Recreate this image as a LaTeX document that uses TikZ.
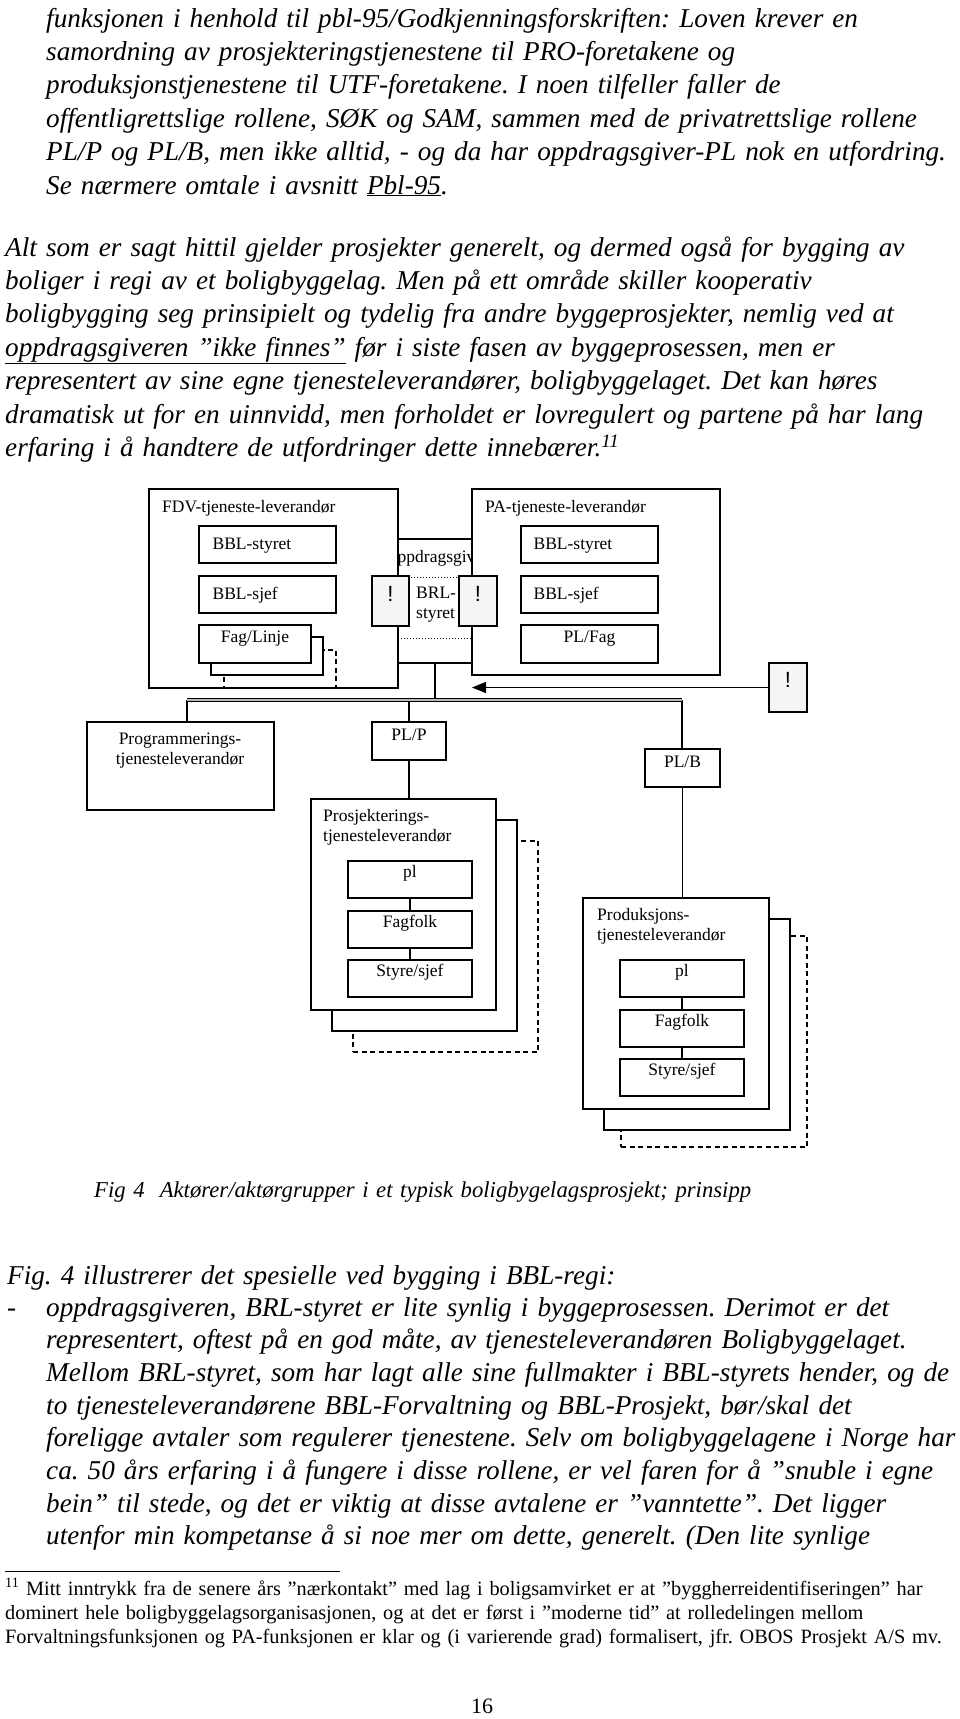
\documentclass[tikz,border=0pt]{standalone}
\usepackage{fontspec}
\setmainfont{Liberation Serif}
\newfontfamily\exclfont{Liberation Sans}
\frenchspacing
\usetikzlibrary{positioning,fit,calc,arrows.meta}
\tikzset{
    % basic box
    fbox/.style = {draw, rectangle, line width=1.2pt, fill=white, inner sep=0pt, font=\fontsize{17.5}{20.5}\selectfont},
    % dashed back layer of a stacked box
    fback/.style = {fbox, fill=none, dash pattern=on 5pt off 3.5pt},
    % exclamation box
    fexcl/.style = {fbox, fill=gray!8, font=\exclfont\fontsize{22}{22}\selectfont},
    % diagram text
    dtxt/.style = {inner sep=0pt, font=\fontsize{17.5}{20.5}\selectfont},
    % page text
    ptxt/.style = {inner sep=0pt, anchor=base west, text width=960pt, align=left, font=\fontsize{27.2}{33.4}\selectfont\itshape},
    % footnote text
    fntxt/.style = {ptxt, font=\fontsize{20.3}{24}\selectfont},
    % connector
    fconc/.style = {line width=1.2pt},
    % double line
    fbus/.style = {line width=1.1pt, double=gray!55, double distance=2.4pt}
}
\begin{document}
\begin{tikzpicture}[x=1pt, y=-1pt]
\useasboundingbox (0,0) rectangle (960,1719);

% text above the figure
\node[ptxt] (para1) at (46,27) {funksjonen i henhold til pbl-95/Godkjenningsforskriften: Loven krever en\\
samordning av prosjekteringstjenestene til PRO-foretakene og\\
produksjonstjenestene til UTF-foretakene. I noen tilfeller faller de\\
offentligrettslige rollene, SØK og SAM, sammen med de privatrettslige rollene\\
PL/P og PL/B, men ikke alltid, - og da har oppdragsgiver-PL nok en utfordring.\\
Se nærmere omtale i avsnitt \underline{Pbl-95}.};
\node[ptxt] (para2) at (5,256) {Alt som er sagt hittil gjelder prosjekter generelt, og dermed også for bygging av\\
boliger i regi av et boligbyggelag. Men på ett område skiller kooperativ\\
boligbygging seg prinsipielt og tydelig fra andre byggeprosjekter, nemlig ved at\\
\underline{oppdragsgiveren ”ikke finnes”} før i siste fasen av byggeprosessen, men er\\
representert av sine egne tjenesteleverandører, boligbyggelaget. Det kan høres\\
dramatisk ut for en uinnvidd, men forholdet er lovregulert og partene på har lang\\
erfaring i å handtere de utfordringer dette innebærer.\textsuperscript{11}};

% oppdragsgiver, behind the two leverandor boxes
\node[fbox, fit={(372,539)(498,663)}] (opp) {};
\node[dtxt, anchor=base] (opptxt) at (439,562) {oppdragsgiver};
\node[draw, dotted, line width=1pt, inner sep=0pt, fit={(380,577)(490,638)}] (brlbox) {};

% FDV
\node[fbox, fit={(149,489)(398,688)}] (fdv) {};
\node[dtxt, anchor=base west] (fdvtxt) at (162,512) {FDV-tjeneste-leverandør};
\node[fbox, fit={(199,526)(336,563)}] (fstyre) {};
\node[dtxt, anchor=base west] (fstyretxt) at ($(fstyre.west)+(14,5)$) {BBL-styret};
\node[fbox, fit={(199,576)(336,613)}] (fsjef) {};
\node[dtxt, anchor=base west] (fsjeftxt) at ($(fsjef.west)+(14,5)$) {BBL-sjef};
\node[fback, fit={(224,650)(336,688)}] (flinjeD) {};
\node[fbox, fit={(211,637)(323,675)}] (flinjeS) {};
\node[fbox, fit={(199,625)(311,663)}] (flinje) {Fag/Linje};

% PA
\node[fbox, fit={(472,489)(720,675)}] (pa) {};
\node[dtxt, anchor=base west] (patxt) at (485,512) {PA-tjeneste-leverandør};
\node[fbox, fit={(521,526)(658,563)}] (pstyre) {};
\node[dtxt, anchor=base west] (pstyretxt) at ($(pstyre.west)+(13,5)$) {BBL-styret};
\node[fbox, fit={(521,576)(658,613)}] (psjef) {};
\node[dtxt, anchor=base west] (psjeftxt) at ($(psjef.west)+(13,5)$) {BBL-sjef};
\node[fbox, fit={(521,625)(658,663)}] (pfag) {PL/Fag};

\node[dtxt, anchor=base west, text width=60pt, align=left] (brltxt) at (416,598) {BRL-\\styret};

% ! boxes
\node[fexcl, fit={(372,576)(409,626)}] (excl1) {!};
\node[fexcl, fit={(459,576)(497,626)}] (excl2) {!};
\node[fexcl, fit={(769,663)(807,712)}] (excl3) {!};
\coordinate (arrtip) at (472,687.5);
\draw[fconc, -{Triangle[length=14pt,width=11pt]}] (excl3.west) -- (arrtip);

% tjenesteleverandorer
\coordinate (busL) at (187,700);
\coordinate (busR) at (682,700);
\node[fbox, fit={(87,722)(274,810)}] (prog) {};
\node[dtxt, anchor=base, text width=185pt, align=center] (progtxt) at (180,744) {Programmerings-\\tjenesteleverandør};
\node[fbox, fit={(372,722)(446,760)}] (plp) {PL/P};
\node[fbox, fit={(645,749)(720,787)}] (plb) {PL/B};

\draw[fconc] (opp.south) -- (opp.south |- busL);
\draw[fconc] (busL) -- (prog.north -| busL);
\draw[fconc] (plp.north) -- (plp.north |- busL);
\draw[fconc] (busR) -- (plb.north -| busR);
\draw[fbus] (busL) -- (busR);

\node[fback, fit={(353,841)(538,1052)}] (prosD) {};
\node[fbox, fit={(332,820)(517,1031)}] (prosS) {};
\node[fbox, fit={(311,799)(496,1010)}] (pros) {};
\node[dtxt, anchor=base west, text width=180pt, align=left] (prostxt) at (323,821) {Prosjekterings-\\tjenesteleverandør};
\node[fbox, fit={(348,861)(472,898)}] (ppl) {pl};
\node[fbox, fit={(348,911)(472,948)}] (pff) {Fagfolk};
\node[fbox, fit={(348,960)(472,997)}] (pss) {Styre/sjef};
\draw[fconc] (ppl) -- (pff) -- (pss);
\draw[fconc] (plp) -- (plp |- pros.north);

\node[fback, fit={(621,936)(807,1147)}] (prodD) {};
\node[fbox, fit={(604,919)(790,1130)}] (prodS) {};
\node[fbox, fit={(583,898)(769,1109)}] (prod) {};
\node[dtxt, anchor=base west, text width=180pt, align=left] (prodtxt) at (597,920) {Produksjons-\\tjenesteleverandør};
\node[fbox, fit={(620,960)(744,997)}] (qpl) {pl};
\node[fbox, fit={(620,1010)(744,1047)}] (qff) {Fagfolk};
\node[fbox, fit={(620,1059)(744,1096)}] (qss) {Styre/sjef};
\draw[fconc] (qpl) -- (qff) -- (qss);
\draw[fconc] (plb) -- (plb |- prod.north);

% caption and text below
\node[ptxt, font=\fontsize{22.7}{26}\selectfont\itshape] (caption) at (94,1197) {Fig 4\ \ Aktører/aktørgrupper i et typisk boligbygelagsprosjekt; prinsipp};
\node[ptxt] (para3) at (7,1284) {Fig. 4 illustrerer det spesielle ved bygging i BBL-regi:};
\node[ptxt, text width=20pt] (dash) at (7,1316) {-};
\node[ptxt, font=\fontsize{27.2}{32.7}\selectfont\itshape] (para4) at (46,1316) {oppdragsgiveren, BRL-styret er lite synlig i byggeprosessen. Derimot er det\\
representert, oftest på en god måte, av tjenesteleverandøren Boligbyggelaget.\\
Mellom BRL-styret, som har lagt alle sine fullmakter i BBL-styrets hender, og de\\
to tjenesteleverandørene BBL-Forvaltning og BBL-Prosjekt, bør/skal det\\
foreligge avtaler som regulerer tjenestene. Selv om boligbyggelagene i Norge har\\
ca. 50 års erfaring i å fungere i disse rollene, er vel faren for å ”snuble i egne\\
bein” til stede, og det er viktig at disse avtalene er ”vanntette”. Det ligger\\
utenfor min kompetanse å si noe mer om dette, generelt. (Den lite synlige};

% footnote
\coordinate (fnL) at (5,1571);
\coordinate (fnR) at (340,1571);
\draw[line width=1pt] (fnL) -- (fnR);
\node[fntxt] (fn) at (5,1595) {\textsuperscript{11} Mitt inntrykk fra de senere års ”nærkontakt” med lag i boligsamvirket er at ”byggherreidentifiseringen” har\\
dominert hele boligbyggelagsorganisasjonen, og at det er først i ”moderne tid” at rolledelingen mellom\\
Forvaltningsfunksjonen og PA-funksjonen er klar og (i varierende grad) formalisert, jfr. OBOS Prosjekt A/S mv.};
\node[dtxt, anchor=base, font=\fontsize{22}{22}\selectfont] (pagenr) at (482,1713) {16};
\end{tikzpicture}
\end{document}
